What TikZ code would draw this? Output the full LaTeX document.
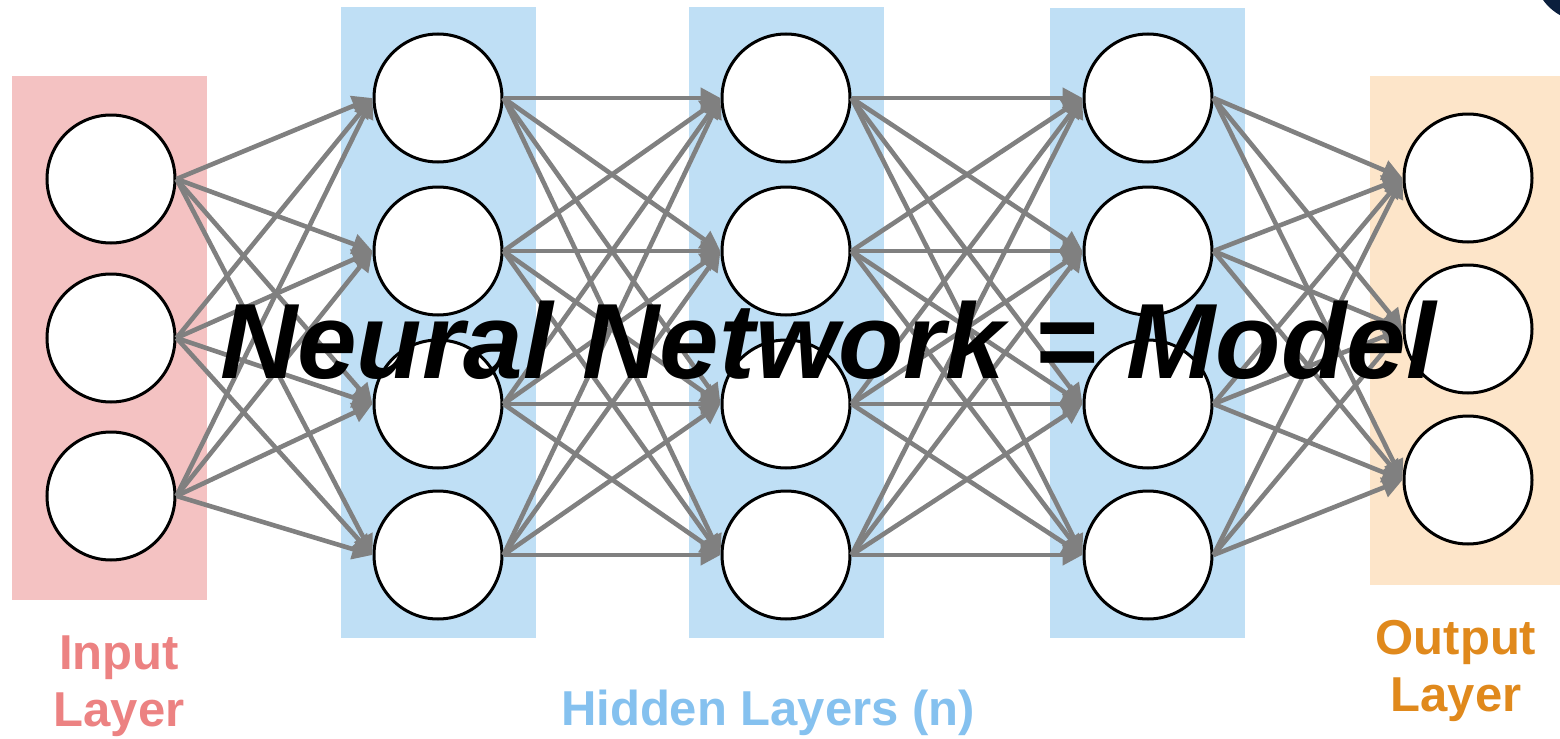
\documentclass[tikz,border=0pt]{standalone}
\usepackage{fontspec}
\setmainfont{Liberation Sans}
\usetikzlibrary{arrows.meta}
\definecolor{inbox}{HTML}{F4C2C2}
\definecolor{intext}{HTML}{EC8282}
\definecolor{hidbox}{HTML}{BFDFF5}
\definecolor{hidtext}{HTML}{85C1EF}
\definecolor{outbox}{HTML}{FDE5C9}
\definecolor{outtext}{HTML}{E0891C}
\definecolor{edgegray}{HTML}{808080}
\definecolor{darknavy}{HTML}{0B1F3D}

\begin{document}
\begin{tikzpicture}[x=0.5pt,y=-0.5pt,
  neuron/.style={circle, draw=black, line width=1.5pt, fill=white, minimum size=64pt, inner sep=0pt},
  link/.style={draw=edgegray, line width=2.3pt, -{Triangle[length=10pt,width=10pt]}},
  lbl/.style={font=\fontsize{24.5}{28.5}\selectfont\bfseries, align=center, inner sep=0pt},
  headline/.style={font=\fontsize{53.5}{60}\selectfont\bfseries\itshape, inner sep=0pt, anchor=base}]

\useasboundingbox (0,0) rectangle (1560,739);
\fill[white] (0,0) rectangle (1560,739);

% corner badge, cut by the page edge
\begin{scope}
  \clip (0,0) rectangle (1560,739);
  \fill[darknavy] (1585,-30) circle[radius=25.8pt];
\end{scope}

% layer backgrounds
\fill[inbox]  (12,76)   rectangle (207,600);
\fill[hidbox] (341,7)   rectangle (536,638);
\fill[hidbox] (689,7)   rectangle (884,638);
\fill[hidbox] (1050,8)  rectangle (1245,638);
\fill[outbox] (1370,76) rectangle (1560,585);

% neurons
\node[neuron] (in1) at (111,179) {};
\node[neuron] (in2) at (111,338) {};
\node[neuron] (in3) at (111,496) {};
\foreach \y [count=\k] in {98,251,404,555} {
  \node[neuron] (ha\k) at (438,\y) {};
  \node[neuron] (hb\k) at (786,\y) {};
  \node[neuron] (hc\k) at (1148,\y) {};
}
\node[neuron] (out1) at (1468,178) {};
\node[neuron] (out2) at (1468,329) {};
\node[neuron] (out3) at (1468,480) {};

% fully connected weights
\foreach \i in {1,2,3} \foreach \j in {1,...,4}
  \draw[link] (in\i.east) -- (ha\j.west);
\foreach \i in {1,...,4} \foreach \j in {1,...,4} {
  \draw[link] (ha\i.east) -- (hb\j.west);
  \draw[link] (hb\i.east) -- (hc\j.west);
}
\foreach \i in {1,...,4} \foreach \j in {1,2,3}
  \draw[link] (hc\i.east) -- (out\j.west);

% headline
\node[headline, text=black] (title) at (828,378) {Neural Network = Model};

% layer captions
\node[lbl, text=intext, anchor=north] (lin) at (119,635) {Input\\Layer};
\node[lbl, text=hidtext, anchor=base] (lhid) at (768,725) {Hidden Layers (n)};
\node[lbl, text=outtext, anchor=north] (lout) at (1456,620) {Output\\Layer};
\end{tikzpicture}
\end{document}
